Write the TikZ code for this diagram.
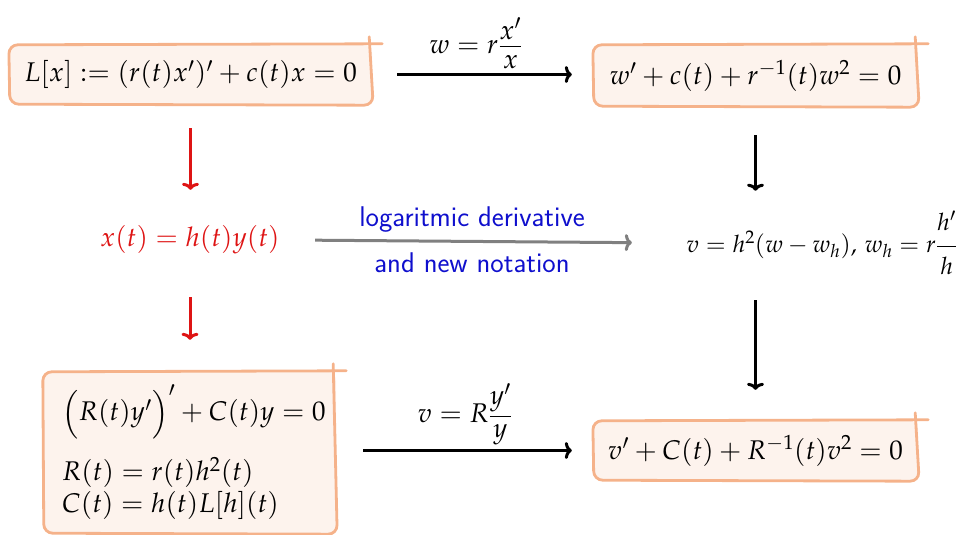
\documentclass[tikz,border=0pt]{standalone}
\usepackage{amsmath}
\usepackage{mathpazo}
\usetikzlibrary{arrows.meta,backgrounds,calc}
\definecolor{skorange}{RGB}{245,178,138}
\definecolor{skfill}{RGB}{253,243,237}
\definecolor{skred}{RGB}{222,20,20}
\definecolor{skblue}{RGB}{15,15,205}
\definecolor{skgray}{RGB}{128,128,128}
\tikzset{
  bx/.style={rectangle, inner sep=0pt},
  skline/.style={draw=skorange, line width=2.8pt, rounded corners=9pt, line cap=round},
  karr/.style={line width=3pt, -{To[length=7pt,width=17pt]}},
  rarr/.style={karr, draw=skred},
  garr/.style={karr, draw=skgray},
  lab/.style={text=skblue, font=\sffamily\fontsize{28.5}{34}\selectfont},
}
\newcommand\skbox[1]{%
  \begin{scope}[on background layer]
  \fill[skfill, rounded corners=9pt] (#1.north west) rectangle (#1.south east);
  \draw[skline] ([shift={(10pt,1pt)}]#1.north east) -- (#1.north west) -- ([shift={(1pt,0pt)}]#1.south west) -- ([shift={(1pt,-1pt)}]#1.south east) -- ([shift={(-3pt,8pt)}]#1.north east);
  \end{scope}}
\newcommand\tightfrac[2]{\dfrac{\raisebox{-4pt}{$#1$}}{\raisebox{4pt}{$#2$}}}
\newcommand\loosefrac[2]{\dfrac{\raisebox{6pt}{$#1$}}{\raisebox{-6pt}{$#2$}}}
\begin{document}
\begin{tikzpicture}[x=1pt,y=-1pt,font=\fontsize{27}{32}\selectfont]
\useasboundingbox (0,0) rectangle (974,535);
\node[bx, minimum width=363pt, minimum height=59pt] (b1) at (190.5,74.5) {$L[x] := (r(t)x')'+c(t)x=0$};
\node[bx, minimum width=325pt, minimum height=61pt] (b2) at (755.5,75.5) {$w'+c(t)+r^{-1}(t)w^2=0$};
\node[bx, minimum width=293pt, minimum height=161pt] (b3) at (189.5,452.5) {\begin{minipage}{255pt}\lineskiplimit=-100pt
\mbox{$\Big(R(t)y'\Big)'+C(t)y=0$}\par
\vspace{28pt}
$R(t)=r(t)h^2(t)$\\ $C(t)=h(t)L[h](t)$\par
\end{minipage}};
\node[bx, minimum width=325pt, minimum height=59pt] (b4) at (755.5,450.5) {$v'+C(t)+R^{-1}(t)v^2=0$};
\node[bx, minimum width=200pt, minimum height=60pt, text=skred] (xt) at (190,240) {$x(t)=h(t)y(t)$};
\node[bx, minimum width=290pt, minimum height=60pt, font=\fontsize{24}{29}\selectfont] (vt) at (822,243) {$v=h^2(w-w_h),\,w_h=r\loosefrac{h'}{h}$};
\node (l1) at (476,45) {$w=r\tightfrac{x'}{x}$};
\node (l2) at (465,414) {$v=R\tightfrac{y'}{y}$};
\node[lab, anchor=base] (l3) at (472,226) {logaritmic derivative};
\node[lab, anchor=base] (l4) at (472,272) {and new notation};
\skbox{b1}\skbox{b2}\skbox{b3}\skbox{b4}
\draw[karr, shorten <=25pt, shorten >=21pt] (b1.east) -- (b1.east -| b2.west);
\draw[rarr, shorten <=24pt, shorten >=20pt] (b1.south) -- (b1.south |- xt.north);
\draw[rarr, shorten <=27pt, shorten >=32pt] (xt.south) -- (xt.south |- b3.north);
\draw[karr, shorten <=29pt, shorten >=20pt] (b2.south) -- (b2.south |- vt.north);
\draw[karr, shorten <=25pt, shorten >=31pt] (b4.north |- vt.south) -- (b4.north);
\draw[garr, shorten <=25pt, shorten >=45pt] (xt.east) -- (vt.west);
\draw[karr, shorten <=27pt, shorten >=21pt] (b4.west -| b3.east) -- (b4.west);
\end{tikzpicture}
\end{document}
